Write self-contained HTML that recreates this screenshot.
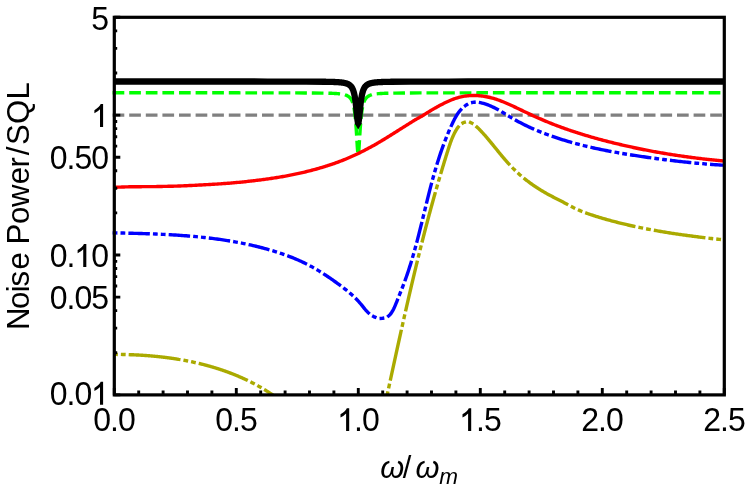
<!DOCTYPE html>
<html><head><meta charset="utf-8"><title>Noise Power / SQL</title>
<style>
html,body{margin:0;padding:0;background:#fff;}
body{width:747px;height:486px;overflow:hidden;position:relative;font-family:"Liberation Sans",sans-serif;}
</style></head><body>
<svg width="747" height="486" viewBox="0 0 747 486" style="position:absolute;left:0;top:0;will-change:transform">
<rect width="747" height="486" fill="#fff"/>
<defs><clipPath id="c"><rect x="112.0" y="17.3" width="612.3" height="377.59999999999997"/></clipPath></defs>
<g clip-path="url(#c)" fill="none" stroke-linejoin="round" stroke-linecap="square">
<path d="M114.3,115.09 H724.3" stroke="#808080" stroke-width="3.4" stroke-dasharray="8.3 8.3"/>
<path d="M114.30,92.81 L133.47,92.81 L152.65,92.81 L171.82,92.81 L190.99,92.81 L210.16,92.82 L229.34,92.82 L248.51,92.83 L267.68,92.84 L286.85,92.87 L306.03,92.93 L325.20,93.14 L325.71,93.15 L326.22,93.16 L326.73,93.17 L327.24,93.18 L327.75,93.19 L328.26,93.21 L328.77,93.22 L329.28,93.24 L329.79,93.25 L330.30,93.27 L330.81,93.29 L331.32,93.30 L331.83,93.32 L332.34,93.34 L332.85,93.37 L333.36,93.39 L333.87,93.41 L334.38,93.44 L334.89,93.47 L335.40,93.50 L335.91,93.53 L336.42,93.56 L336.93,93.60 L337.44,93.64 L337.96,93.68 L338.47,93.73 L338.98,93.78 L339.49,93.83 L340.00,93.89 L340.51,93.95 L341.02,94.02 L341.53,94.09 L342.04,94.17 L342.55,94.26 L343.06,94.36 L343.57,94.47 L344.08,94.58 L344.59,94.72 L345.10,94.86 L345.61,95.03 L346.12,95.21 L346.63,95.42 L347.14,95.65 L347.65,95.92 L348.16,96.22 L348.67,96.58 L349.18,96.98 L349.69,97.46 L350.20,98.02 L350.30,98.14 L350.40,98.26 L350.51,98.40 L350.61,98.53 L350.71,98.67 L350.81,98.82 L350.91,98.97 L351.01,99.13 L351.12,99.29 L351.22,99.46 L351.32,99.63 L351.42,99.81 L351.52,100.00 L351.62,100.20 L351.73,100.40 L351.83,100.61 L351.93,100.83 L352.03,101.06 L352.13,101.30 L352.23,101.55 L352.34,101.81 L352.44,102.08 L352.54,102.36 L352.64,102.65 L352.74,102.95 L352.84,103.27 L352.95,103.61 L353.05,103.96 L353.15,104.32 L353.25,104.70 L353.35,105.10 L353.45,105.52 L353.56,105.95 L353.66,106.41 L353.76,106.89 L353.86,107.39 L353.96,107.92 L354.06,108.47 L354.17,109.05 L354.27,109.66 L354.37,110.30 L354.47,110.97 L354.57,111.67 L354.67,112.41 L354.78,113.18 L354.88,114.00 L354.98,114.85 L355.08,115.75 L355.18,116.70 L355.28,117.69 L355.39,118.73 L355.49,119.81 L355.59,120.95 L355.69,122.15 L355.79,123.39 L355.89,124.70 L356.00,126.05 L356.10,127.46 L356.20,128.92 L356.23,129.42 L356.27,129.93 L356.30,130.44 L356.34,130.95 L356.37,131.47 L356.40,132.00 L356.44,132.53 L356.47,133.06 L356.51,133.60 L356.54,134.14 L356.57,134.69 L356.61,135.24 L356.64,135.79 L356.67,136.35 L356.71,136.91 L356.74,137.47 L356.78,138.03 L356.81,138.59 L356.84,139.16 L356.88,139.72 L356.91,140.29 L356.95,140.85 L356.98,141.41 L357.01,141.97 L357.05,142.53 L357.08,143.09 L357.12,143.64 L357.15,144.18 L357.18,144.72 L357.22,145.26 L357.25,145.79 L357.28,146.31 L357.32,146.82 L357.35,147.32 L357.39,147.81 L357.42,148.29 L357.45,148.76 L357.49,149.22 L357.52,149.66 L357.56,150.09 L357.59,150.50 L357.62,150.89 L357.66,151.27 L357.69,151.63 L357.73,151.97 L357.76,152.30 L357.79,152.60 L357.83,152.88 L357.86,153.14 L357.89,153.37 L357.93,153.58 L357.96,153.77 L358.00,153.94 L358.03,154.08 L358.06,154.19 L358.10,154.28 L358.13,154.35 L358.17,154.39 L358.20,154.40 L358.23,154.39 L358.27,154.35 L358.30,154.28 L358.34,154.19 L358.37,154.08 L358.40,153.94 L358.44,153.77 L358.47,153.58 L358.51,153.37 L358.54,153.14 L358.57,152.88 L358.61,152.60 L358.64,152.30 L358.67,151.97 L358.71,151.63 L358.74,151.27 L358.78,150.89 L358.81,150.50 L358.84,150.09 L358.88,149.66 L358.91,149.22 L358.95,148.76 L358.98,148.29 L359.01,147.81 L359.05,147.32 L359.08,146.82 L359.12,146.31 L359.15,145.79 L359.18,145.26 L359.22,144.72 L359.25,144.18 L359.28,143.64 L359.32,143.09 L359.35,142.53 L359.39,141.97 L359.42,141.41 L359.45,140.85 L359.49,140.29 L359.52,139.72 L359.56,139.16 L359.59,138.59 L359.62,138.03 L359.66,137.47 L359.69,136.91 L359.73,136.35 L359.76,135.79 L359.79,135.24 L359.83,134.69 L359.86,134.14 L359.89,133.60 L359.93,133.06 L359.96,132.53 L360.00,132.00 L360.03,131.47 L360.06,130.95 L360.10,130.44 L360.13,129.93 L360.17,129.42 L360.20,128.92 L360.30,127.46 L360.40,126.05 L360.51,124.70 L360.61,123.39 L360.71,122.15 L360.81,120.95 L360.91,119.81 L361.01,118.73 L361.12,117.69 L361.22,116.70 L361.32,115.75 L361.42,114.85 L361.52,114.00 L361.62,113.18 L361.73,112.41 L361.83,111.67 L361.93,110.97 L362.03,110.30 L362.13,109.66 L362.23,109.05 L362.34,108.47 L362.44,107.92 L362.54,107.39 L362.64,106.89 L362.74,106.41 L362.84,105.95 L362.95,105.52 L363.05,105.10 L363.15,104.70 L363.25,104.32 L363.35,103.96 L363.45,103.61 L363.56,103.27 L363.66,102.95 L363.76,102.65 L363.86,102.36 L363.96,102.08 L364.06,101.81 L364.17,101.55 L364.27,101.30 L364.37,101.06 L364.47,100.83 L364.57,100.61 L364.67,100.40 L364.78,100.20 L364.88,100.00 L364.98,99.81 L365.08,99.63 L365.18,99.46 L365.28,99.29 L365.39,99.13 L365.49,98.97 L365.59,98.82 L365.69,98.67 L365.79,98.53 L365.89,98.40 L366.00,98.26 L366.10,98.14 L366.20,98.02 L366.71,97.46 L367.22,96.98 L367.73,96.58 L368.24,96.22 L368.75,95.92 L369.26,95.65 L369.77,95.42 L370.28,95.21 L370.79,95.03 L371.30,94.86 L371.81,94.72 L372.32,94.58 L372.83,94.47 L373.34,94.36 L373.85,94.26 L374.36,94.17 L374.87,94.09 L375.38,94.02 L375.89,93.95 L376.40,93.89 L376.91,93.83 L377.42,93.78 L377.93,93.73 L378.44,93.68 L378.96,93.64 L379.47,93.60 L379.98,93.56 L380.49,93.53 L381.00,93.50 L381.51,93.47 L382.02,93.44 L382.53,93.41 L383.04,93.39 L383.55,93.37 L384.06,93.34 L384.57,93.32 L385.08,93.30 L385.59,93.29 L386.10,93.27 L386.61,93.25 L387.12,93.24 L387.63,93.22 L388.14,93.21 L388.65,93.19 L389.16,93.18 L389.67,93.17 L390.18,93.16 L390.69,93.15 L391.20,93.14 L410.37,92.93 L429.55,92.87 L448.72,92.84 L467.89,92.83 L487.06,92.82 L506.24,92.82 L525.41,92.81 L544.58,92.81 L563.75,92.81 L582.93,92.81 L724.30,92.80" stroke="#00ff00" stroke-width="3.4" stroke-dasharray="8.3 8.3"/>
<path d="M114.30,81.50 L133.47,81.51 L152.65,81.51 L171.82,81.51 L190.99,81.51 L210.16,81.51 L229.34,81.52 L248.51,81.52 L267.68,81.53 L286.85,81.56 L306.03,81.60 L325.20,81.76 L325.71,81.77 L326.22,81.78 L326.73,81.79 L327.24,81.79 L327.75,81.80 L328.26,81.82 L328.77,81.83 L329.28,81.84 L329.79,81.85 L330.30,81.86 L330.81,81.88 L331.32,81.89 L331.83,81.91 L332.34,81.92 L332.85,81.94 L333.36,81.96 L333.87,81.98 L334.38,82.00 L334.89,82.02 L335.40,82.04 L335.91,82.07 L336.42,82.09 L336.93,82.12 L337.44,82.15 L337.96,82.18 L338.47,82.22 L338.98,82.26 L339.49,82.30 L340.00,82.34 L340.51,82.39 L341.02,82.44 L341.53,82.50 L342.04,82.56 L342.55,82.63 L343.06,82.70 L343.57,82.79 L344.08,82.88 L344.59,82.98 L345.10,83.09 L345.61,83.22 L346.12,83.36 L346.63,83.52 L347.14,83.70 L347.65,83.90 L348.16,84.14 L348.67,84.41 L349.18,84.72 L349.69,85.08 L350.20,85.50 L350.30,85.60 L350.40,85.69 L350.51,85.79 L350.61,85.90 L350.71,86.00 L350.81,86.11 L350.91,86.23 L351.01,86.35 L351.12,86.47 L351.22,86.60 L351.32,86.73 L351.42,86.87 L351.52,87.01 L351.62,87.16 L351.73,87.31 L351.83,87.47 L351.93,87.63 L352.03,87.81 L352.13,87.98 L352.23,88.17 L352.34,88.36 L352.44,88.57 L352.54,88.78 L352.64,88.99 L352.74,89.22 L352.84,89.46 L352.95,89.71 L353.05,89.97 L353.15,90.24 L353.25,90.52 L353.35,90.81 L353.45,91.12 L353.56,91.44 L353.66,91.78 L353.76,92.13 L353.86,92.50 L353.96,92.88 L354.06,93.28 L354.17,93.70 L354.27,94.14 L354.37,94.60 L354.47,95.09 L354.57,95.59 L354.67,96.12 L354.78,96.67 L354.88,97.25 L354.98,97.86 L355.08,98.49 L355.18,99.15 L355.28,99.84 L355.39,100.57 L355.49,101.32 L355.59,102.10 L355.69,102.92 L355.79,103.76 L355.89,104.64 L356.00,105.55 L356.10,106.48 L356.20,107.44 L356.23,107.77 L356.27,108.10 L356.30,108.43 L356.34,108.77 L356.37,109.10 L356.40,109.44 L356.44,109.78 L356.47,110.13 L356.51,110.47 L356.54,110.82 L356.57,111.16 L356.61,111.51 L356.64,111.86 L356.67,112.21 L356.71,112.56 L356.74,112.91 L356.78,113.26 L356.81,113.61 L356.84,113.96 L356.88,114.31 L356.91,114.65 L356.95,115.00 L356.98,115.34 L357.01,115.68 L357.05,116.02 L357.08,116.35 L357.12,116.68 L357.15,117.01 L357.18,117.33 L357.22,117.65 L357.25,117.96 L357.28,118.27 L357.32,118.57 L357.35,118.86 L357.39,119.15 L357.42,119.43 L357.45,119.70 L357.49,119.96 L357.52,120.22 L357.56,120.46 L357.59,120.70 L357.62,120.93 L357.66,121.14 L357.69,121.35 L357.73,121.54 L357.76,121.72 L357.79,121.89 L357.83,122.05 L357.86,122.19 L357.89,122.33 L357.93,122.45 L357.96,122.55 L358.00,122.64 L358.03,122.72 L358.06,122.79 L358.10,122.84 L358.13,122.87 L358.17,122.89 L358.20,122.90 L358.23,122.89 L358.27,122.87 L358.30,122.84 L358.34,122.79 L358.37,122.72 L358.40,122.64 L358.44,122.55 L358.47,122.45 L358.51,122.33 L358.54,122.19 L358.57,122.05 L358.61,121.89 L358.64,121.72 L358.67,121.54 L358.71,121.35 L358.74,121.14 L358.78,120.93 L358.81,120.70 L358.84,120.46 L358.88,120.22 L358.91,119.96 L358.95,119.70 L358.98,119.43 L359.01,119.15 L359.05,118.86 L359.08,118.57 L359.12,118.27 L359.15,117.96 L359.18,117.65 L359.22,117.33 L359.25,117.01 L359.28,116.68 L359.32,116.35 L359.35,116.02 L359.39,115.68 L359.42,115.34 L359.45,115.00 L359.49,114.65 L359.52,114.31 L359.56,113.96 L359.59,113.61 L359.62,113.26 L359.66,112.91 L359.69,112.56 L359.73,112.21 L359.76,111.86 L359.79,111.51 L359.83,111.16 L359.86,110.82 L359.89,110.47 L359.93,110.13 L359.96,109.78 L360.00,109.44 L360.03,109.10 L360.06,108.77 L360.10,108.43 L360.13,108.10 L360.17,107.77 L360.20,107.44 L360.30,106.48 L360.40,105.55 L360.51,104.64 L360.61,103.76 L360.71,102.92 L360.81,102.10 L360.91,101.32 L361.01,100.57 L361.12,99.84 L361.22,99.15 L361.32,98.49 L361.42,97.86 L361.52,97.25 L361.62,96.67 L361.73,96.12 L361.83,95.59 L361.93,95.09 L362.03,94.60 L362.13,94.14 L362.23,93.70 L362.34,93.28 L362.44,92.88 L362.54,92.50 L362.64,92.13 L362.74,91.78 L362.84,91.44 L362.95,91.12 L363.05,90.81 L363.15,90.52 L363.25,90.24 L363.35,89.97 L363.45,89.71 L363.56,89.46 L363.66,89.22 L363.76,88.99 L363.86,88.78 L363.96,88.57 L364.06,88.36 L364.17,88.17 L364.27,87.98 L364.37,87.81 L364.47,87.63 L364.57,87.47 L364.67,87.31 L364.78,87.16 L364.88,87.01 L364.98,86.87 L365.08,86.73 L365.18,86.60 L365.28,86.47 L365.39,86.35 L365.49,86.23 L365.59,86.11 L365.69,86.00 L365.79,85.90 L365.89,85.79 L366.00,85.69 L366.10,85.60 L366.20,85.50 L366.71,85.08 L367.22,84.72 L367.73,84.41 L368.24,84.14 L368.75,83.90 L369.26,83.70 L369.77,83.52 L370.28,83.36 L370.79,83.22 L371.30,83.09 L371.81,82.98 L372.32,82.88 L372.83,82.79 L373.34,82.70 L373.85,82.63 L374.36,82.56 L374.87,82.50 L375.38,82.44 L375.89,82.39 L376.40,82.34 L376.91,82.30 L377.42,82.26 L377.93,82.22 L378.44,82.18 L378.96,82.15 L379.47,82.12 L379.98,82.09 L380.49,82.07 L381.00,82.04 L381.51,82.02 L382.02,82.00 L382.53,81.98 L383.04,81.96 L383.55,81.94 L384.06,81.92 L384.57,81.91 L385.08,81.89 L385.59,81.88 L386.10,81.86 L386.61,81.85 L387.12,81.84 L387.63,81.83 L388.14,81.82 L388.65,81.80 L389.16,81.79 L389.67,81.79 L390.18,81.78 L390.69,81.77 L391.20,81.76 L410.37,81.60 L429.55,81.56 L448.72,81.53 L467.89,81.52 L487.06,81.52 L506.24,81.51 L525.41,81.51 L544.58,81.51 L563.75,81.51 L582.93,81.51 L724.30,81.50" stroke="#000" stroke-width="6.3" stroke-linecap="butt"/>
<path d="M354.5,123.0 L361.9,123.0 L358.2,129.6 Z" fill="#000" stroke="none"/>
<path d="M114.37,354.38 L114.71,354.38 L115.04,354.38 L115.38,354.38 L115.71,354.38 L116.05,354.38 L116.38,354.39 L116.71,354.39 L117.05,354.39 L117.38,354.39 L117.72,354.40 L118.05,354.40 L118.39,354.40 L118.72,354.41 L119.06,354.41 L119.39,354.42 L119.73,354.42 L120.06,354.42 L120.40,354.43 L120.73,354.43 L121.07,354.44 L121.40,354.45 L121.74,354.45 L122.07,354.46 L122.41,354.46 L122.74,354.47 L123.08,354.48 L123.41,354.48 L123.75,354.49 L124.08,354.50 L124.42,354.51 L124.76,354.51 L125.09,354.52 L125.43,354.53 L125.76,354.54 L126.10,354.55 L126.43,354.56 L126.77,354.57 L127.10,354.58 L127.44,354.59 L127.78,354.60 L128.11,354.61 L128.45,354.62 L128.78,354.63 L129.12,354.64 L129.46,354.65 L129.79,354.66 L130.13,354.67 L130.46,354.69 L130.80,354.70 L131.14,354.71 L131.47,354.72 L131.81,354.74 L132.14,354.75 L132.48,354.76 L132.82,354.78 L133.15,354.79 L133.49,354.81 L133.82,354.82 L134.16,354.83 L134.50,354.85 L134.83,354.87 L135.17,354.88 L135.51,354.90 L135.84,354.91 L136.18,354.93 L136.51,354.95 L136.85,354.96 L137.19,354.98 L137.52,355.00 L137.86,355.02 L138.20,355.03 L138.53,355.05 L138.87,355.07 L139.20,355.09 L139.54,355.11 L139.88,355.13 L140.21,355.15 L140.55,355.17 L140.89,355.19 L141.22,355.21 L141.56,355.23 L141.90,355.25 L142.23,355.27 L142.57,355.29 L142.91,355.31 L143.24,355.34 L143.58,355.36 L143.91,355.38 L144.25,355.40 L144.59,355.43 L144.92,355.45 L145.26,355.47 L145.60,355.50 L145.93,355.52 L146.27,355.55 L146.61,355.57 L146.94,355.60 L147.28,355.62 L147.62,355.65 L147.95,355.67 L148.29,355.70 L148.62,355.73 L148.96,355.75 L149.30,355.78 L149.63,355.81 L149.97,355.84 L150.31,355.86 L150.64,355.89 L150.98,355.92 L151.31,355.95 L151.65,355.98 L151.99,356.01 L152.32,356.04 L152.66,356.07 L153.00,356.10 L153.33,356.13 L153.67,356.16 L154.00,356.19 L154.34,356.22 L154.68,356.25 L155.01,356.29 L155.35,356.32 L155.68,356.35 L156.02,356.38 L156.36,356.42 L156.69,356.45 L157.03,356.49 L157.36,356.52 L157.70,356.55 L158.03,356.59 L158.37,356.62 L158.71,356.66 L159.04,356.70 L159.38,356.73 L159.71,356.77 L160.05,356.81 L160.38,356.84 L160.72,356.88 L161.06,356.92 L161.39,356.96 L161.73,356.99 L162.06,357.03 L162.40,357.07 L162.73,357.11 L163.07,357.15 L163.40,357.19 L163.74,357.23 L164.07,357.27 L164.41,357.31 L164.74,357.35 L165.08,357.39 L165.41,357.44 L165.75,357.48 L166.08,357.52 L166.42,357.56 L166.75,357.61 L167.09,357.65 L167.42,357.69 L167.76,357.74 L168.09,357.78 L168.43,357.83 L168.76,357.87 L169.09,357.92 L169.43,357.96 L169.76,358.01 L170.10,358.05 L170.43,358.10 L170.77,358.15 L171.10,358.20 L171.43,358.24 L171.77,358.29 L172.10,358.34 L172.44,358.39 L172.77,358.44 L173.10,358.49 L173.44,358.54 L173.77,358.59 L174.10,358.64 L174.44,358.69 L174.77,358.74 L175.10,358.79 L175.44,358.84 L175.77,358.89 L176.10,358.95 L176.44,359.00 L176.77,359.05 L177.10,359.11 L177.44,359.16 L177.77,359.21 L178.10,359.27 L178.44,359.32 L178.77,359.38 L179.10,359.43 L179.43,359.49 L179.77,359.55 L180.10,359.60 L180.43,359.66 L180.76,359.72 L181.10,359.77 L181.43,359.83 L181.76,359.89 L182.09,359.95 L182.42,360.01 L182.76,360.07 L183.09,360.13 L183.42,360.19 L183.75,360.25 L184.08,360.31 L184.41,360.37 L184.74,360.43 L185.08,360.49 L185.41,360.56 L185.74,360.62 L186.07,360.68 L186.40,360.74 L186.73,360.81 L187.06,360.87 L187.39,360.94 L187.72,361.00 L188.05,361.07 L188.38,361.13 L188.71,361.20 L189.04,361.26 L189.37,361.33 L189.70,361.40 L190.03,361.47 L190.36,361.53 L190.69,361.60 L191.02,361.67 L191.35,361.74 L191.68,361.81 L192.01,361.88 L192.34,361.95 L192.67,362.02 L193.00,362.09 L193.33,362.16 L193.66,362.23 L193.99,362.30 L194.31,362.38 L194.64,362.45 L194.97,362.52 L195.30,362.60 L195.63,362.67 L195.96,362.74 L196.28,362.82 L196.61,362.89 L196.94,362.97 L197.27,363.04 L197.60,363.12 L197.92,363.20 L198.25,363.27 L198.58,363.35 L198.91,363.43 L199.23,363.51 L199.56,363.59 L199.89,363.66 L200.21,363.74 L200.54,363.82 L200.87,363.90 L201.19,363.98 L201.52,364.06 L201.85,364.15 L202.17,364.23 L202.50,364.31 L202.82,364.39 L203.15,364.47 L203.48,364.56 L203.80,364.64 L204.13,364.73 L204.45,364.81 L204.78,364.90 L205.10,364.98 L205.43,365.07 L205.75,365.15 L206.08,365.24 L206.40,365.33 L206.72,365.41 L207.05,365.50 L207.37,365.59 L207.70,365.68 L208.02,365.77 L208.35,365.86 L208.67,365.94 L208.99,366.04 L209.32,366.13 L209.64,366.22 L209.96,366.31 L210.28,366.40 L210.61,366.49 L210.93,366.58 L211.25,366.68 L211.58,366.77 L211.90,366.87 L212.22,366.96 L212.54,367.05 L212.86,367.15 L213.19,367.24 L213.51,367.34 L213.83,367.44 L214.15,367.53 L214.47,367.63 L214.79,367.73 L215.11,367.83 L215.43,367.93 L215.76,368.02 L216.08,368.12 L216.40,368.22 L216.72,368.32 L217.04,368.42 L217.36,368.53 L217.68,368.63 L218.00,368.73 L218.32,368.83 L218.63,368.93 L218.95,369.04 L219.27,369.14 L219.59,369.25 L219.91,369.35 L220.23,369.45 L220.55,369.56 L220.87,369.67 L221.18,369.77 L221.50,369.88 L221.82,369.99 L222.14,370.09 L222.45,370.20 L222.77,370.31 L223.09,370.42 L223.41,370.53 L223.72,370.64 L224.04,370.75 L224.36,370.86 L224.67,370.97 L224.99,371.08 L225.31,371.19 L225.62,371.31 L225.94,371.42 L226.25,371.53 L226.57,371.65 L226.88,371.76 L227.20,371.88 L227.51,371.99 L227.83,372.11 L228.14,372.22 L228.46,372.34 L228.77,372.46 L229.08,372.57 L229.40,372.69 L229.71,372.81 L230.03,372.93 L230.34,373.05 L230.65,373.17 L230.97,373.29 L231.28,373.41 L231.59,373.53 L231.90,373.65 L232.22,373.77 L232.53,373.90 L232.84,374.02 L233.15,374.14 L233.46,374.27 L233.77,374.39 L234.09,374.51 L234.40,374.64 L234.71,374.77 L235.02,374.89 L235.33,375.02 L235.64,375.15 L235.95,375.27 L236.26,375.40 L236.57,375.53 L236.88,375.66 L237.19,375.79 L237.50,375.92 L237.81,376.05 L238.12,376.18 L238.42,376.31 L238.73,376.44 L239.04,376.58 L239.35,376.71 L239.66,376.84 L239.96,376.98 L240.27,377.11 L240.58,377.24 L240.89,377.38 L241.19,377.51 L241.50,377.65 L241.81,377.79 L242.11,377.92 L242.42,378.06 L242.72,378.20 L243.03,378.34 L243.34,378.48 L243.64,378.62 L243.95,378.76 L244.25,378.90 L244.56,379.04 L244.86,379.18 L245.16,379.32 L245.47,379.47 L245.77,379.61 L246.08,379.75 L246.38,379.90 L246.68,380.04 L246.99,380.19 L247.29,380.33 L247.59,380.48 L247.89,380.62 L248.20,380.77 L248.50,380.92 L248.80,381.07 L249.10,381.21 L249.40,381.36 L249.70,381.51 L250.01,381.66 L250.31,381.81 L250.61,381.96 L250.91,382.12 L251.21,382.27 L251.51,382.42 L251.81,382.57 L252.11,382.73 L252.41,382.88 L252.70,383.03 L253.00,383.19 L253.30,383.34 L253.60,383.50 L253.90,383.66 L254.20,383.81 L254.49,383.97 L254.79,384.13 L255.09,384.29 L255.38,384.45 L255.68,384.61 L255.98,384.77 L256.27,384.93 L256.57,385.09 L256.87,385.25 L257.16,385.41 L257.46,385.58 L257.75,385.74 L258.05,385.90 L258.34,386.07 L258.64,386.23 L258.93,386.40 L259.22,386.56 L259.52,386.73 L259.81,386.90 L260.10,387.06 L260.40,387.23 L260.69,387.40 L260.98,387.57 L261.28,387.74 L261.57,387.91 L261.86,388.08 L262.15,388.25 L262.44,388.42 L262.73,388.59 L263.02,388.77 L263.31,388.94 L263.61,389.11 L263.90,389.29 L264.19,389.46 L264.47,389.64 L264.76,389.81 L265.05,389.99 L265.34,390.17 L265.63,390.34 L265.92,390.52 L266.21,390.70 L266.50,390.88 L266.78,391.06 L267.07,391.24 L267.36,391.42 L267.64,391.60 L267.93,391.78 L268.22,391.97 L268.50,392.15 L268.79,392.33 L269.07,392.52 L269.36,392.70 L269.65,392.89 L269.93,393.07 L270.21,393.26 L270.50,393.44 L270.78,393.63 L271.07,393.82 L271.35,394.01 L271.63,394.20 L271.92,394.39 L272.20,394.58 L272.48,394.77 L272.76,394.96 L273.05,395.15 L273.33,395.34 L273.61,395.53 L273.89,395.73 L274.17,395.92 L274.45,396.12 L274.73,396.31 L275.01,396.51 L275.29,396.70 L275.57,396.90 L275.85,397.10 L276.13,397.29 L276.41,397.49 L276.69,397.69 L276.96,397.89 L277.24,398.09 L277.52,398.29 L277.80,398.49 L278.07,398.69" stroke="#aaaa00" stroke-width="3.4" stroke-dasharray="1.4 6.4 1.4 6.4 48.7 6.4" stroke-dashoffset="-0.4"/>
<path d="M387.26,394.37 L387.50,393.25 L387.75,392.12 L387.99,391.00 L388.24,389.88 L388.48,388.75 L388.72,387.63 L388.97,386.51 L389.21,385.38 L389.46,384.26 L389.70,383.13 L389.95,382.01 L390.19,380.88 L390.43,379.76 L390.68,378.63 L390.92,377.51 L391.17,376.38 L391.41,375.26 L391.66,374.13 L391.90,373.01 L392.15,371.88 L392.39,370.76 L392.64,369.63 L392.88,368.51 L393.13,367.38 L393.37,366.26 L393.62,365.13 L393.86,364.01 L394.11,362.88 L394.35,361.75 L394.60,360.63 L394.84,359.50 L395.09,358.38 L395.34,357.25 L395.58,356.12 L395.83,355.00 L396.07,353.87 L396.32,352.74 L396.57,351.62 L396.82,350.49 L397.06,349.37 L397.31,348.24 L397.56,347.11 L397.81,345.99 L398.05,344.86 L398.30,343.73 L398.55,342.61 L398.80,341.48 L399.05,340.35 L399.29,339.23 L399.54,338.10 L399.79,336.97 L400.04,335.85 L400.29,334.72 L400.54,333.59 L400.79,332.47 L401.04,331.34 L401.29,330.21 L401.54,329.09 L401.80,327.96 L402.05,326.83 L402.30,325.71 L402.55,324.58 L402.80,323.45 L403.05,322.33 L403.31,321.20 L403.56,320.08 L403.81,318.95 L404.07,317.82 L404.32,316.70 L404.57,315.57 L404.83,314.44 L405.08,313.32 L405.34,312.19 L405.59,311.07 L405.85,309.94 L406.11,308.81 L406.36,307.69 L406.62,306.56 L406.87,305.44 L407.13,304.31 L407.39,303.18 L407.65,302.06 L407.91,300.93 L408.16,299.81 L408.42,298.68 L408.68,297.56 L408.94,296.43 L409.20,295.31 L409.46,294.18 L409.72,293.06 L409.99,291.93 L410.25,290.81 L410.51,289.68 L410.77,288.56 L411.03,287.43 L411.30,286.31 L411.56,285.18 L411.82,284.06 L412.09,282.94 L412.35,281.81 L412.62,280.69 L412.89,279.56 L413.15,278.44 L413.42,277.32 L413.69,276.19 L413.95,275.07 L414.22,273.95 L414.49,272.82 L414.76,271.70 L415.03,270.58 L415.30,269.46 L415.57,268.33 L415.84,267.21 L416.11,266.09 L416.38,264.97 L416.65,263.85 L416.93,262.72 L417.20,261.60 L417.47,260.48 L417.75,259.36 L418.02,258.24 L418.30,257.12 L418.57,256.00 L418.85,254.88 L419.13,253.76 L419.40,252.64 L419.68,251.52 L419.96,250.40 L420.24,249.28 L420.52,248.16 L420.80,247.04 L421.08,245.92 L421.36,244.80 L421.64,243.68 L421.93,242.56 L422.21,241.44 L422.49,240.33 L422.78,239.21 L423.06,238.09 L423.35,236.97 L423.63,235.86 L423.92,234.74 L424.21,233.62 L424.50,232.50 L424.78,231.39 L425.07,230.27 L425.36,229.16 L425.65,228.04 L425.95,226.92 L426.24,225.81 L426.53,224.69 L426.82,223.58 L427.12,222.47 L427.41,221.35 L427.70,220.24 L428.00,219.12 L428.30,218.01 L428.59,216.90 L428.89,215.78 L429.19,214.67 L429.49,213.56 L429.79,212.45 L430.09,211.33 L430.39,210.22 L430.69,209.11 L430.99,208.00 L431.30,206.89 L431.60,205.78 L431.91,204.67 L432.21,203.56 L432.52,202.45 L432.83,201.34 L433.13,200.23 L433.44,199.12 L433.75,198.01 L434.06,196.90 L434.37,195.79 L434.68,194.69 L434.99,193.58 L435.31,192.47 L435.62,191.36 L435.94,190.26 L436.25,189.15 L436.57,188.05 L436.88,186.94 L437.20,185.83 L437.52,184.73 L437.84,183.63 L438.16,182.52 L438.48,181.42 L438.80,180.31 L439.13,179.21 L439.45,178.11 L439.77,177.00 L440.10,175.90 L440.42,174.80 L440.75,173.70 L441.08,172.60 L441.41,171.50 L441.74,170.40 L442.07,169.30 L442.40,168.20 L442.73,167.10 L443.06,166.00 L443.40,164.90 L443.73,163.80 L444.07,162.70 L444.40,161.60 L444.74,160.51 L445.08,159.41 L445.42,158.31 L445.76,157.22 L446.10,156.12 L446.44,155.03 L446.78,153.93 L447.13,152.84 L447.47,151.74 L447.82,150.65 L448.16,149.56 L448.51,148.46 L448.87,147.37 L449.22,146.28 L449.59,145.19 L449.96,144.10 L450.34,143.01 L450.73,141.92 L451.13,140.84 L451.55,139.75 L451.98,138.67 L452.43,137.59 L452.90,136.51 L453.38,135.43 L453.89,134.36 L454.42,133.28 L454.97,132.21 L455.54,131.15 L456.15,130.10 L456.78,129.07 L457.45,128.07 L458.15,127.12 L458.89,126.21 L459.67,125.36 L460.49,124.58 L461.36,123.87 L462.27,123.25 L463.23,122.72 L464.24,122.29 L465.28,121.98 L466.33,121.80 L467.39,121.76 L468.43,121.86 L469.45,122.10 L470.47,122.46 L471.47,122.92 L472.45,123.47 L473.42,124.11 L474.37,124.81 L475.31,125.57 L476.23,126.37 L477.13,127.21 L478.02,128.06 L478.88,128.91 L479.72,129.77 L480.55,130.62 L481.36,131.48 L482.16,132.33 L482.94,133.18 L483.72,134.03 L484.48,134.88 L485.23,135.74 L485.97,136.59 L486.71,137.45 L487.44,138.31 L488.17,139.18 L488.90,140.05 L489.62,140.92 L490.35,141.80 L491.07,142.68 L491.79,143.56 L492.52,144.44 L493.24,145.33 L493.96,146.22 L494.68,147.11 L495.40,148.00 L496.13,148.90 L496.85,149.79 L497.58,150.69 L498.30,151.58 L499.03,152.47 L499.77,153.37 L500.50,154.26 L501.23,155.15 L501.97,156.04 L502.72,156.92 L503.46,157.81 L504.21,158.69 L504.96,159.57 L505.72,160.44 L506.48,161.31 L507.25,162.17 L508.02,163.04 L508.80,163.89 L509.58,164.74 L510.37,165.59 L511.16,166.43 L511.96,167.26 L512.77,168.09 L513.58,168.90 L514.40,169.72 L515.23,170.52 L516.06,171.32 L516.91,172.11 L517.75,172.89 L518.61,173.66 L519.47,174.43 L520.34,175.19 L521.21,175.94 L522.09,176.69 L522.97,177.43 L523.86,178.16 L524.76,178.88 L525.67,179.60 L526.57,180.31 L527.49,181.01 L528.41,181.71 L529.33,182.40 L530.26,183.08 L531.20,183.75 L532.14,184.42 L533.08,185.08 L534.03,185.74 L534.99,186.38 L535.95,187.02 L536.91,187.66 L537.88,188.28 L538.85,188.90 L539.83,189.52 L540.81,190.12 L541.80,190.72 L542.79,191.31 L543.78,191.90 L544.78,192.48 L545.78,193.05 L546.78,193.62 L547.79,194.18 L548.80,194.73 L549.81,195.27 L550.83,195.81 L551.85,196.35 L552.87,196.88 L553.89,197.40 L554.92,197.92 L555.95,198.44 L556.97,198.95 L558.00,199.47 L559.03,199.99 L560.05,200.51 L561.08,201.04 L562.10,201.57 L563.11,202.11 L564.13,202.65 L565.14,203.20 L566.15,203.76 L567.16,204.31 L568.17,204.87 L569.18,205.42 L570.19,205.97 L571.21,206.52 L572.23,207.05 L573.26,207.57 L574.29,208.08 L575.33,208.57 L576.37,209.06 L577.42,209.53 L578.47,209.99 L579.53,210.44 L580.59,210.89 L581.66,211.32 L582.73,211.75 L583.81,212.16 L584.88,212.57 L585.97,212.97 L587.05,213.36 L588.14,213.74 L589.23,214.12 L590.32,214.49 L591.41,214.86 L592.51,215.22 L593.61,215.58 L594.71,215.93 L595.81,216.27 L596.91,216.62 L598.02,216.96 L599.12,217.29 L600.23,217.63 L601.33,217.96 L602.44,218.28 L603.55,218.61 L604.65,218.93 L605.76,219.24 L606.87,219.56 L607.98,219.87 L609.09,220.18 L610.21,220.48 L611.32,220.78 L612.43,221.08 L613.55,221.38 L614.66,221.67 L615.78,221.96 L616.89,222.25 L618.01,222.53 L619.13,222.82 L620.25,223.09 L621.36,223.37 L622.48,223.64 L623.60,223.91 L624.72,224.18 L625.85,224.45 L626.97,224.71 L628.09,224.97 L629.21,225.23 L630.34,225.48 L631.46,225.74 L632.59,225.98 L633.71,226.23 L634.84,226.48 L635.96,226.72 L637.09,226.96 L638.22,227.20 L639.35,227.43 L640.47,227.66 L641.60,227.89 L642.73,228.12 L643.86,228.35 L644.99,228.57 L646.12,228.79 L647.26,229.01 L648.39,229.23 L649.52,229.44 L650.65,229.65 L651.79,229.86 L652.92,230.07 L654.05,230.28 L655.19,230.48 L656.32,230.69 L657.46,230.88 L658.59,231.08 L659.73,231.28 L660.87,231.47 L662.00,231.66 L663.14,231.86 L664.28,232.04 L665.42,232.23 L666.55,232.41 L667.69,232.60 L668.83,232.78 L669.97,232.96 L671.11,233.14 L672.25,233.31 L673.39,233.49 L674.53,233.66 L675.67,233.83 L676.81,234.00 L677.95,234.17 L679.09,234.33 L680.23,234.50 L681.38,234.66 L682.52,234.82 L683.66,234.98 L684.80,235.14 L685.94,235.30 L687.09,235.45 L688.23,235.61 L689.37,235.76 L690.52,235.91 L691.66,236.06 L692.80,236.21 L693.95,236.36 L695.09,236.51 L696.23,236.65 L697.38,236.80 L698.52,236.94 L699.67,237.08 L700.81,237.22 L701.96,237.36 L703.10,237.50 L704.24,237.64 L705.39,237.78 L706.53,237.91 L707.68,238.05 L708.82,238.18 L709.97,238.31 L711.11,238.45 L712.26,238.58 L713.40,238.71 L714.55,238.84 L715.69,238.96 L716.84,239.09 L717.98,239.22 L719.13,239.35 L720.27,239.47 L721.42,239.60 L722.56,239.72 L723.70,239.84 L724.85,239.97 L725.99,240.09" stroke="#aaaa00" stroke-width="3.4" stroke-dasharray="1.4 6.45 1.4 6.45 48.75 6.45"/>
<path d="M114.33,232.88 L115.85,232.91 L117.38,232.94 L118.90,232.97 L120.42,233.01 L121.95,233.04 L123.48,233.07 L125.00,233.11 L126.53,233.14 L128.06,233.18 L129.58,233.21 L131.11,233.25 L132.64,233.29 L134.17,233.33 L135.70,233.37 L137.23,233.41 L138.76,233.45 L140.29,233.50 L141.82,233.54 L143.36,233.59 L144.89,233.64 L146.42,233.69 L147.95,233.74 L149.49,233.80 L151.02,233.85 L152.55,233.91 L154.09,233.97 L155.62,234.03 L157.16,234.10 L158.69,234.16 L160.22,234.23 L161.76,234.30 L163.29,234.37 L164.83,234.45 L166.36,234.53 L167.89,234.61 L169.43,234.69 L170.96,234.78 L172.50,234.87 L174.03,234.96 L175.56,235.06 L177.10,235.16 L178.63,235.26 L180.16,235.36 L181.70,235.47 L183.23,235.58 L184.76,235.70 L186.29,235.81 L187.82,235.94 L189.35,236.06 L190.89,236.19 L192.42,236.32 L193.95,236.46 L195.47,236.60 L197.00,236.75 L198.53,236.90 L200.06,237.05 L201.59,237.21 L203.11,237.37 L204.64,237.53 L206.16,237.70 L207.69,237.88 L209.21,238.06 L210.74,238.24 L212.26,238.43 L213.78,238.62 L215.30,238.82 L216.82,239.02 L218.34,239.23 L219.86,239.44 L221.37,239.66 L222.89,239.88 L224.41,240.11 L225.92,240.35 L227.43,240.59 L228.95,240.83 L230.46,241.08 L231.97,241.34 L233.48,241.60 L234.99,241.87 L236.49,242.14 L238.00,242.42 L239.50,242.70 L241.01,243.00 L242.51,243.29 L244.01,243.60 L245.51,243.91 L247.01,244.22 L248.51,244.54 L250.00,244.87 L251.50,245.21 L252.99,245.55 L254.48,245.90 L255.97,246.25 L257.46,246.62 L258.95,246.98 L260.43,247.36 L261.92,247.74 L263.40,248.13 L264.88,248.53 L266.36,248.94 L267.84,249.35 L269.31,249.77 L270.78,250.20 L272.25,250.63 L273.72,251.08 L275.19,251.53 L276.65,251.99 L278.11,252.46 L279.57,252.94 L281.02,253.43 L282.47,253.93 L283.92,254.43 L285.36,254.95 L286.80,255.48 L288.23,256.01 L289.67,256.56 L291.09,257.12 L292.52,257.68 L293.93,258.26 L295.35,258.85 L296.76,259.45 L298.16,260.06 L299.56,260.68 L300.95,261.32 L302.34,261.96 L303.73,262.62 L305.10,263.29 L306.48,263.97 L307.84,264.66 L309.20,265.37 L310.56,266.09 L311.91,266.82 L313.25,267.56 L314.58,268.32 L315.91,269.09 L317.24,269.87 L318.55,270.66 L319.86,271.47 L321.17,272.28 L322.47,273.10 L323.76,273.94 L325.05,274.78 L326.34,275.63 L327.62,276.48 L328.89,277.35 L330.16,278.22 L331.42,279.09 L332.68,279.97 L333.94,280.86 L335.19,281.75 L336.43,282.65 L337.67,283.54 L338.91,284.45 L340.14,285.35 L341.37,286.26 L342.59,287.18 L343.80,288.11 L345.00,289.04 L346.20,289.99 L347.39,290.95 L348.56,291.92 L349.72,292.90 L350.87,293.90 L352.01,294.91 L353.14,295.94 L354.25,296.99 L355.34,298.06 L356.42,299.15 L357.49,300.26 L358.53,301.39 L359.56,302.54 L360.57,303.73 L361.56,304.93 L362.54,306.15 L363.51,307.38 L364.50,308.59 L365.49,309.79 L366.51,310.95 L367.57,312.07 L368.67,313.13 L369.82,314.13 L371.03,315.04 L372.31,315.87 L373.67,316.59 L375.09,317.20 L376.56,317.69 L378.07,318.05 L379.59,318.27 L381.11,318.36 L382.62,318.29 L384.08,318.06 L385.49,317.67 L386.83,317.11 L388.08,316.37 L389.23,315.43 L390.27,314.34 L391.23,313.11 L392.10,311.78 L392.89,310.38 L393.63,308.95 L394.31,307.51 L394.95,306.07 L395.56,304.63 L396.15,303.20 L396.71,301.76 L397.28,300.33 L397.84,298.90 L398.41,297.48 L398.98,296.05 L399.55,294.63 L400.12,293.21 L400.70,291.78 L401.27,290.36 L401.83,288.94 L402.39,287.51 L402.95,286.09 L403.50,284.66 L404.04,283.23 L404.57,281.79 L405.09,280.36 L405.61,278.92 L406.12,277.48 L406.63,276.03 L407.13,274.59 L407.62,273.14 L408.11,271.69 L408.59,270.23 L409.06,268.78 L409.53,267.32 L409.99,265.87 L410.45,264.40 L410.90,262.94 L411.35,261.48 L411.79,260.01 L412.23,258.55 L412.66,257.08 L413.09,255.61 L413.51,254.13 L413.93,252.66 L414.34,251.19 L414.75,249.71 L415.16,248.23 L415.57,246.75 L415.97,245.27 L416.36,243.79 L416.76,242.31 L417.15,240.83 L417.54,239.34 L417.92,237.86 L418.30,236.37 L418.69,234.88 L419.06,233.40 L419.44,231.91 L419.81,230.42 L420.19,228.93 L420.56,227.44 L420.93,225.95 L421.30,224.46 L421.66,222.96 L422.03,221.47 L422.39,219.98 L422.76,218.49 L423.12,216.99 L423.49,215.50 L423.85,214.01 L424.21,212.51 L424.58,211.02 L424.94,209.53 L425.31,208.04 L425.67,206.54 L426.04,205.05 L426.40,203.56 L426.77,202.07 L427.14,200.57 L427.51,199.08 L427.88,197.59 L428.25,196.10 L428.63,194.61 L429.00,193.12 L429.38,191.64 L429.76,190.15 L430.15,188.66 L430.53,187.18 L430.92,185.69 L431.31,184.21 L431.71,182.73 L432.11,181.24 L432.51,179.76 L432.91,178.28 L433.32,176.81 L433.73,175.33 L434.15,173.85 L434.57,172.38 L434.99,170.91 L435.42,169.44 L435.86,167.97 L436.29,166.50 L436.74,165.03 L437.18,163.57 L437.64,162.10 L438.10,160.64 L438.56,159.18 L439.03,157.73 L439.51,156.27 L439.99,154.82 L440.47,153.37 L440.97,151.92 L441.47,150.47 L441.97,149.02 L442.49,147.58 L443.01,146.14 L443.54,144.70 L444.07,143.27 L444.61,141.84 L445.16,140.41 L445.72,138.98 L446.28,137.55 L446.86,136.13 L447.44,134.71 L448.03,133.29 L448.62,131.88 L449.23,130.47 L449.84,129.06 L450.47,127.66 L451.10,126.25 L451.74,124.85 L452.39,123.46 L453.06,122.07 L453.73,120.68 L454.43,119.31 L455.15,117.96 L455.90,116.62 L456.68,115.31 L457.51,114.02 L458.37,112.77 L459.28,111.55 L460.25,110.37 L461.27,109.23 L462.35,108.14 L463.49,107.10 L464.68,106.13 L465.93,105.24 L467.24,104.44 L468.58,103.74 L469.97,103.15 L471.40,102.68 L472.87,102.35 L474.37,102.17 L475.89,102.13 L477.43,102.21 L478.98,102.41 L480.52,102.69 L482.06,103.04 L483.57,103.44 L485.05,103.88 L486.52,104.37 L487.96,104.90 L489.39,105.47 L490.80,106.07 L492.19,106.70 L493.57,107.36 L494.94,108.05 L496.29,108.76 L497.63,109.49 L498.97,110.24 L500.29,111.00 L501.61,111.78 L502.93,112.57 L504.24,113.36 L505.55,114.17 L506.86,114.97 L508.17,115.77 L509.48,116.57 L510.80,117.36 L512.12,118.14 L513.44,118.92 L514.78,119.68 L516.11,120.43 L517.46,121.17 L518.81,121.89 L520.16,122.61 L521.53,123.32 L522.89,124.01 L524.26,124.70 L525.64,125.37 L527.02,126.04 L528.41,126.69 L529.80,127.34 L531.19,127.97 L532.59,128.60 L534.00,129.21 L535.41,129.82 L536.82,130.42 L538.23,131.01 L539.65,131.59 L541.08,132.16 L542.50,132.72 L543.93,133.28 L545.36,133.82 L546.80,134.36 L548.24,134.89 L549.68,135.42 L551.12,135.93 L552.56,136.44 L554.01,136.94 L555.46,137.43 L556.91,137.92 L558.37,138.40 L559.82,138.87 L561.28,139.33 L562.74,139.79 L564.20,140.24 L565.67,140.69 L567.14,141.12 L568.60,141.55 L570.07,141.98 L571.55,142.40 L573.02,142.81 L574.50,143.22 L575.98,143.62 L577.45,144.01 L578.94,144.40 L580.42,144.78 L581.90,145.16 L583.39,145.53 L584.88,145.89 L586.37,146.25 L587.86,146.61 L589.35,146.96 L590.84,147.30 L592.34,147.64 L593.83,147.97 L595.33,148.30 L596.83,148.63 L598.33,148.95 L599.83,149.26 L601.33,149.57 L602.84,149.88 L604.34,150.18 L605.85,150.48 L607.35,150.77 L608.86,151.06 L610.37,151.35 L611.88,151.63 L613.39,151.91 L614.90,152.18 L616.41,152.45 L617.92,152.72 L619.43,152.98 L620.95,153.24 L622.46,153.50 L623.98,153.75 L625.49,154.00 L627.01,154.25 L628.52,154.49 L630.04,154.74 L631.56,154.97 L633.07,155.21 L634.59,155.44 L636.11,155.68 L637.63,155.91 L639.14,156.13 L640.66,156.36 L642.18,156.58 L643.70,156.80 L645.22,157.02 L646.74,157.23 L648.25,157.45 L649.77,157.66 L651.29,157.87 L652.81,158.08 L654.33,158.29 L655.85,158.50 L657.37,158.70 L658.88,158.90 L660.40,159.10 L661.92,159.30 L663.44,159.49 L664.96,159.69 L666.48,159.88 L668.00,160.07 L669.52,160.25 L671.04,160.44 L672.56,160.62 L674.08,160.80 L675.60,160.98 L677.12,161.15 L678.64,161.33 L680.17,161.50 L681.69,161.67 L683.21,161.83 L684.73,161.99 L686.26,162.15 L687.78,162.31 L689.30,162.47 L690.83,162.62 L692.35,162.77 L693.88,162.92 L695.40,163.06 L696.93,163.20 L698.45,163.34 L699.98,163.48 L701.51,163.61 L703.03,163.74 L704.56,163.87 L706.09,164.00 L707.62,164.12 L709.15,164.24 L710.68,164.35 L712.21,164.47 L713.74,164.58 L715.27,164.68 L716.81,164.79 L718.34,164.89 L719.88,164.98 L721.41,165.08 L722.95,165.17 L724.48,165.26 L726.02,165.34" stroke="#0000ff" stroke-width="3.4" stroke-dasharray="1.4 6.47 1.4 6.47 18.1 6.47"/>
<path d="M114.63,187.32 L115.82,187.27 L117.02,187.22 L118.21,187.17 L119.41,187.13 L120.61,187.08 L121.81,187.04 L123.01,187.00 L124.22,186.95 L125.42,186.91 L126.62,186.87 L127.83,186.83 L129.04,186.79 L130.25,186.75 L131.46,186.74 L132.67,186.73 L133.88,186.73 L135.09,186.72 L136.30,186.71 L137.52,186.70 L138.74,186.69 L139.95,186.68 L141.17,186.68 L142.39,186.67 L143.61,186.66 L144.83,186.66 L146.05,186.65 L147.27,186.64 L148.49,186.64 L149.72,186.63 L150.94,186.62 L152.17,186.62 L153.39,186.61 L154.62,186.60 L155.85,186.58 L157.08,186.56 L158.31,186.53 L159.54,186.50 L160.77,186.48 L162.00,186.45 L163.23,186.42 L164.46,186.39 L165.70,186.36 L166.93,186.33 L168.16,186.30 L169.40,186.27 L170.63,186.24 L171.87,186.21 L173.11,186.18 L174.34,186.15 L175.58,186.11 L176.82,186.08 L178.06,186.04 L179.29,186.01 L180.53,185.97 L181.77,185.91 L183.01,185.86 L184.25,185.80 L185.49,185.75 L186.73,185.69 L187.97,185.63 L189.22,185.57 L190.46,185.51 L191.70,185.45 L192.94,185.39 L194.18,185.33 L195.43,185.26 L196.67,185.19 L197.91,185.13 L199.15,185.06 L200.40,184.99 L201.64,184.93 L202.88,184.87 L204.13,184.81 L205.37,184.74 L206.61,184.67 L207.86,184.61 L209.10,184.54 L210.34,184.47 L211.59,184.39 L212.83,184.32 L214.07,184.24 L215.32,184.17 L216.56,184.09 L217.80,184.00 L219.05,183.92 L220.29,183.84 L221.53,183.75 L222.78,183.66 L224.02,183.57 L225.26,183.48 L226.50,183.38 L227.74,183.29 L228.98,183.19 L230.22,183.09 L231.47,182.98 L232.71,182.88 L233.95,182.77 L235.19,182.66 L236.42,182.55 L237.66,182.43 L238.90,182.32 L240.14,182.20 L241.38,182.08 L242.61,181.95 L243.85,181.83 L245.09,181.70 L246.32,181.57 L247.56,181.43 L248.79,181.29 L250.03,181.16 L251.26,181.01 L252.49,180.87 L253.73,180.72 L254.96,180.57 L256.19,180.43 L257.42,180.28 L258.65,180.13 L259.88,179.98 L261.11,179.83 L262.33,179.67 L263.56,179.51 L264.79,179.35 L266.01,179.18 L267.24,179.01 L268.46,178.84 L269.68,178.66 L270.90,178.49 L272.12,178.30 L273.34,178.12 L274.56,177.93 L275.78,177.74 L277.00,177.54 L278.22,177.34 L279.43,177.14 L280.65,176.93 L281.86,176.73 L283.07,176.51 L284.28,176.30 L285.49,176.08 L286.70,175.85 L287.91,175.63 L289.12,175.40 L290.32,175.16 L291.53,174.92 L292.73,174.68 L293.93,174.43 L295.14,174.18 L296.34,173.93 L297.53,173.67 L298.73,173.41 L299.93,173.15 L301.12,172.88 L302.32,172.60 L303.51,172.32 L304.70,172.04 L305.89,171.76 L307.08,171.47 L308.26,171.17 L309.45,170.87 L310.63,170.57 L311.82,170.26 L313.00,169.95 L314.18,169.64 L315.36,169.32 L316.53,168.99 L317.71,168.66 L318.88,168.33 L320.05,167.99 L321.22,167.65 L322.39,167.30 L323.56,166.95 L324.73,166.59 L325.89,166.23 L327.05,165.86 L328.21,165.49 L329.37,165.12 L330.53,164.73 L331.68,164.34 L332.84,163.94 L333.99,163.54 L335.14,163.14 L336.29,162.72 L337.44,162.31 L338.58,161.89 L339.72,161.46 L340.86,161.03 L342.00,160.59 L343.14,160.15 L344.28,159.70 L345.41,159.24 L346.54,158.76 L347.67,158.28 L348.80,157.79 L349.92,157.30 L351.05,156.80 L352.17,156.30 L353.29,155.79 L354.41,155.28 L355.52,154.76 L356.63,154.23 L357.75,153.70 L358.85,153.16 L359.96,152.62 L361.07,152.07 L362.17,151.52 L363.27,150.96 L364.37,150.40 L365.47,149.83 L366.56,149.26 L367.65,148.68 L368.75,148.10 L369.84,147.52 L370.92,146.93 L372.01,146.34 L373.10,145.74 L374.18,145.14 L375.26,144.53 L376.34,143.92 L377.42,143.30 L378.50,142.66 L379.58,142.02 L380.65,141.37 L381.73,140.73 L382.80,140.07 L383.88,139.42 L384.95,138.76 L386.02,138.10 L387.09,137.44 L388.16,136.78 L389.23,136.11 L390.29,135.44 L391.36,134.78 L392.43,134.12 L393.49,133.45 L394.56,132.78 L395.63,132.11 L396.69,131.44 L397.75,130.77 L398.82,130.09 L399.88,129.42 L400.95,128.74 L402.01,128.07 L403.07,127.40 L404.14,126.74 L405.20,126.07 L406.26,125.41 L407.33,124.74 L408.39,124.07 L409.45,123.41 L410.52,122.74 L411.58,122.08 L412.65,121.42 L413.71,120.75 L414.78,120.09 L415.84,119.48 L416.91,118.88 L417.98,118.29 L419.05,117.69 L420.11,117.10 L421.18,116.51 L422.25,115.90 L423.32,115.22 L424.40,114.55 L425.47,113.88 L426.54,113.21 L427.62,112.54 L428.69,111.88 L429.77,111.22 L430.85,110.56 L431.93,109.90 L433.01,109.27 L434.09,108.65 L435.18,108.03 L436.26,107.42 L437.35,106.81 L438.44,106.21 L439.53,105.62 L440.63,105.04 L441.73,104.46 L442.83,103.90 L443.93,103.35 L445.04,102.80 L446.15,102.26 L447.27,101.74 L448.39,101.22 L449.51,100.73 L450.64,100.25 L451.77,99.78 L452.91,99.34 L454.05,98.91 L455.20,98.51 L456.36,98.12 L457.52,97.76 L458.68,97.41 L459.85,97.09 L461.03,96.83 L462.22,96.59 L463.41,96.37 L464.60,96.18 L465.80,96.02 L467.01,95.87 L468.21,95.75 L469.42,95.66 L470.64,95.59 L471.85,95.54 L473.07,95.51 L474.29,95.51 L475.51,95.53 L476.73,95.57 L477.95,95.64 L479.17,95.73 L480.39,95.84 L481.61,95.97 L482.82,96.13 L484.04,96.31 L485.25,96.51 L486.46,96.73 L487.66,96.97 L488.86,97.23 L490.06,97.52 L491.25,97.82 L492.44,98.15 L493.62,98.49 L494.80,98.84 L495.98,99.22 L497.16,99.61 L498.33,100.01 L499.50,100.43 L500.67,100.87 L501.83,101.31 L502.99,101.77 L504.15,102.24 L505.31,102.72 L506.46,103.21 L507.61,103.70 L508.76,104.21 L509.91,104.72 L511.05,105.24 L512.19,105.77 L513.33,106.30 L514.47,106.84 L515.61,107.38 L516.74,107.92 L517.87,108.46 L519.01,109.01 L520.14,109.55 L521.27,110.10 L522.39,110.64 L523.52,111.19 L524.64,111.73 L525.77,112.27 L526.89,112.80 L528.01,113.33 L529.13,113.86 L530.26,114.38 L531.38,114.90 L532.50,115.42 L533.62,115.93 L534.74,116.44 L535.86,116.95 L536.98,117.45 L538.10,117.95 L539.22,118.44 L540.35,118.93 L541.47,119.42 L542.59,119.90 L543.72,120.38 L544.85,120.86 L545.98,121.33 L547.11,121.80 L548.24,122.26 L549.37,122.73 L550.51,123.18 L551.65,123.64 L552.79,124.09 L553.93,124.53 L555.07,124.98 L556.22,125.41 L557.37,125.85 L558.52,126.28 L559.67,126.71 L560.82,127.13 L561.98,127.56 L563.13,127.97 L564.29,128.39 L565.45,128.80 L566.62,129.21 L567.78,129.61 L568.94,130.01 L570.11,130.41 L571.28,130.80 L572.45,131.19 L573.62,131.58 L574.79,131.97 L575.97,132.35 L577.14,132.73 L578.32,133.10 L579.50,133.47 L580.67,133.84 L581.85,134.21 L583.04,134.57 L584.22,134.93 L585.40,135.29 L586.59,135.64 L587.77,135.99 L588.96,136.34 L590.15,136.69 L591.33,137.03 L592.52,137.37 L593.71,137.71 L594.91,138.04 L596.10,138.38 L597.29,138.71 L598.48,139.03 L599.68,139.36 L600.87,139.68 L602.07,140.00 L603.26,140.31 L604.46,140.63 L605.66,140.94 L606.86,141.25 L608.05,141.56 L609.25,141.86 L610.45,142.16 L611.65,142.46 L612.85,142.76 L614.05,143.06 L615.25,143.35 L616.45,143.64 L617.65,143.93 L618.86,144.21 L620.06,144.50 L621.26,144.78 L622.46,145.06 L623.67,145.34 L624.87,145.61 L626.07,145.88 L627.28,146.16 L628.48,146.42 L629.69,146.69 L630.89,146.95 L632.10,147.21 L633.30,147.47 L634.51,147.73 L635.72,147.99 L636.93,148.24 L638.13,148.49 L639.34,148.74 L640.55,148.98 L641.76,149.23 L642.97,149.47 L644.18,149.71 L645.39,149.95 L646.60,150.18 L647.81,150.42 L649.02,150.65 L650.23,150.88 L651.44,151.10 L652.65,151.33 L653.87,151.55 L655.08,151.77 L656.29,151.99 L657.51,152.21 L658.72,152.42 L659.93,152.64 L661.15,152.85 L662.36,153.05 L663.58,153.26 L664.79,153.47 L666.01,153.67 L667.23,153.87 L668.44,154.07 L669.66,154.26 L670.88,154.46 L672.10,154.65 L673.31,154.84 L674.53,155.03 L675.75,155.21 L676.97,155.40 L678.19,155.58 L679.41,155.76 L680.63,155.94 L681.85,156.11 L683.07,156.29 L684.29,156.46 L685.52,156.63 L686.74,156.80 L687.96,156.97 L689.18,157.13 L690.41,157.29 L691.63,157.45 L692.85,157.61 L694.08,157.77 L695.30,157.93 L696.53,158.08 L697.75,158.23 L698.98,158.38 L700.20,158.53 L701.43,158.67 L702.66,158.82 L703.88,158.96 L705.11,159.10 L706.34,159.24 L707.57,159.38 L708.80,159.51 L710.02,159.64 L711.25,159.77 L712.48,159.90 L713.71,160.03 L714.94,160.16 L716.17,160.28 L717.40,160.40 L718.63,160.52 L719.87,160.64 L721.10,160.76 L722.33,160.88 L723.56,160.99 L724.80,161.10 L726.03,161.21" stroke="#ff0000" stroke-width="3.4" stroke-linecap="butt"/>
</g>
<path d="M114.3,17.30 h6.0 M114.3,115.09 h6.0 M114.3,157.21 h6.0 M114.3,254.99 h6.0 M114.3,297.11 h6.0 M114.3,394.90 h6.0 M114.3,30.86 h2.9 M114.3,48.34 h2.9 M114.3,72.97 h2.9 M114.3,121.49 h2.9 M114.3,128.65 h2.9 M114.3,136.76 h2.9 M114.3,146.13 h2.9 M114.3,170.76 h2.9 M114.3,188.24 h2.9 M114.3,212.88 h2.9 M114.3,261.40 h2.9 M114.3,268.55 h2.9 M114.3,276.67 h2.9 M114.3,286.03 h2.9 M114.3,310.67 h2.9 M114.3,328.15 h2.9 M114.3,352.78 h2.9 M114.30,394.9 v-6.9 M138.70,394.9 v-4.3 M163.10,394.9 v-4.3 M187.50,394.9 v-4.3 M211.90,394.9 v-4.3 M236.30,394.9 v-6.9 M260.70,394.9 v-4.3 M285.10,394.9 v-4.3 M309.50,394.9 v-4.3 M333.90,394.9 v-4.3 M358.30,394.9 v-6.9 M382.70,394.9 v-4.3 M407.10,394.9 v-4.3 M431.50,394.9 v-4.3 M455.90,394.9 v-4.3 M480.30,394.9 v-6.9 M504.70,394.9 v-4.3 M529.10,394.9 v-4.3 M553.50,394.9 v-4.3 M577.90,394.9 v-4.3 M602.30,394.9 v-6.9 M626.70,394.9 v-4.3 M651.10,394.9 v-4.3 M675.50,394.9 v-4.3 M699.90,394.9 v-4.3 M724.30,394.9 v-6.9" stroke="#000" stroke-width="2.9" fill="none"/>
<rect x="114.3" y="17.3" width="610.0" height="377.59999999999997" fill="none" stroke="#000" stroke-width="3.2"/>
<g font-family="Liberation Sans, sans-serif" font-size="32.0" fill="#000">
<g transform="translate(0,29.90) scale(1,1.03) translate(0,-29.90)"><text x="91.20" y="29.90">5</text></g>
<g transform="translate(0,126.99) scale(1,1.03) translate(0,-126.99)"><path d="M11.9,0 V-22.3 H9.5 Q8.4,-19.4 3.2,-16.3 V-13.3 Q6.6,-14.8 8.8,-17.2 V0 Z" transform="translate(91.20,126.99)"/><text x="91.20" y="126.99" fill="none">1</text></g>
<g transform="translate(0,169.11) scale(1,1.03) translate(0,-169.11)"><text x="49.79" y="169.11">0</text><text x="66.56" y="169.11">.</text><text x="74.43" y="169.11">5</text><text x="91.20" y="169.11">0</text></g>
<g transform="translate(0,266.89) scale(1,1.03) translate(0,-266.89)"><text x="49.79" y="266.89">0</text><text x="66.56" y="266.89">.</text><path d="M11.9,0 V-22.3 H9.5 Q8.4,-19.4 3.2,-16.3 V-13.3 Q6.6,-14.8 8.8,-17.2 V0 Z" transform="translate(74.43,266.89)"/><text x="74.43" y="266.89" fill="none">1</text><text x="91.20" y="266.89">0</text></g>
<g transform="translate(0,309.01) scale(1,1.03) translate(0,-309.01)"><text x="49.79" y="309.01">0</text><text x="66.56" y="309.01">.</text><text x="74.43" y="309.01">0</text><text x="91.20" y="309.01">5</text></g>
<g transform="translate(0,404.70) scale(1,1.03) translate(0,-404.70)"><text x="49.79" y="404.70">0</text><text x="66.56" y="404.70">.</text><text x="74.43" y="404.70">0</text><path d="M11.9,0 V-22.3 H9.5 Q8.4,-19.4 3.2,-16.3 V-13.3 Q6.6,-14.8 8.8,-17.2 V0 Z" transform="translate(91.20,404.70)"/><text x="91.20" y="404.70" fill="none">1</text></g>
<g transform="translate(0,431.10) scale(1,1.03) translate(0,-431.10)"><text x="93.30" y="431.10">0</text><text x="110.07" y="431.10">.</text><text x="117.94" y="431.10">0</text></g>
<g transform="translate(0,431.10) scale(1,1.03) translate(0,-431.10)"><text x="215.30" y="431.10">0</text><text x="232.07" y="431.10">.</text><text x="239.94" y="431.10">5</text></g>
<g transform="translate(0,431.10) scale(1,1.03) translate(0,-431.10)"><path d="M11.9,0 V-22.3 H9.5 Q8.4,-19.4 3.2,-16.3 V-13.3 Q6.6,-14.8 8.8,-17.2 V0 Z" transform="translate(337.30,431.10)"/><text x="337.30" y="431.10" fill="none">1</text><text x="354.07" y="431.10">.</text><text x="361.94" y="431.10">0</text></g>
<g transform="translate(0,431.10) scale(1,1.03) translate(0,-431.10)"><path d="M11.9,0 V-22.3 H9.5 Q8.4,-19.4 3.2,-16.3 V-13.3 Q6.6,-14.8 8.8,-17.2 V0 Z" transform="translate(459.30,431.10)"/><text x="459.30" y="431.10" fill="none">1</text><text x="476.07" y="431.10">.</text><text x="483.94" y="431.10">5</text></g>
<g transform="translate(0,431.10) scale(1,1.03) translate(0,-431.10)"><text x="581.30" y="431.10">2</text><text x="598.07" y="431.10">.</text><text x="605.94" y="431.10">0</text></g>
<g transform="translate(0,431.10) scale(1,1.03) translate(0,-431.10)"><text x="703.30" y="431.10">2</text><text x="720.07" y="431.10">.</text><text x="727.94" y="431.10">5</text></g>
<text transform="translate(29.1,330) rotate(-90)" font-size="31.2" x="-0.07 21.07 37.69 43.53 60.50 77.66 85.44 106.07 123.12 145.75 162.58 174.82 184.90 206.07 230.51">Noise Power/SQL</text>
<text x="380.2" y="477.6" font-style="italic" font-size="30.8">ω</text>
<text x="402.8" y="477.8" font-size="30.8">/</text>
<text x="415.6" y="477.6" font-style="italic" font-size="30.8">ω<tspan font-size="22.5" dy="6.2" dx="-0.3">m</tspan></text>
</g>
</svg>
</body></html>
